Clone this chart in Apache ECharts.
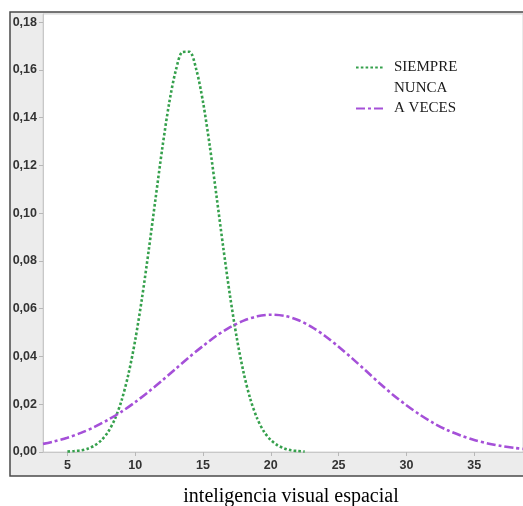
<!DOCTYPE html>
<html>
<head>
<meta charset="utf-8">
<script src="https://cdn.jsdelivr.net/npm/echarts@6/dist/echarts.min.js"></script>
<style>
html,body{margin:0;padding:0;background:#fff;}
#c{width:523px;height:506px;}
</style>
</head>
<body>
<div id="c"></div>
<script>
const xTicks = [5, 10, 15, 20, 25, 30, 35];
const yTicks = [0, 0.02, 0.04, 0.06, 0.08, 0.10, 0.12, 0.14, 0.16, 0.18];

const siempreX = [5, 5.5, 6, 6.5, 7, 7.5, 8, 8.5, 9, 9.5, 10, 10.5, 11, 11.5, 12, 12.5, 13, 13.5, 14, 14.5, 15, 15.5, 16, 16.5, 17, 17.5, 18, 18.5, 19, 19.5, 20, 20.5, 21, 21.5, 22, 22.5];
const siempreY = [0.0002, 0.0004, 0.0007, 0.0014, 0.0027, 0.0049, 0.0084, 0.0138, 0.0217, 0.0326, 0.0468, 0.0644, 0.0846, 0.1061, 0.1273, 0.1459, 0.1599, 0.1675, 0.1676, 0.1603, 0.1466, 0.1281, 0.1070, 0.0854, 0.0651, 0.0475, 0.0331, 0.0220, 0.0140, 0.0085, 0.0050, 0.0028, 0.0015, 0.0007, 0.0004, 0.0002];

const avecesX = [3.2, 4, 5, 6, 7, 8, 9, 10, 11, 12, 13, 14, 15, 16, 17, 18, 19, 20, 21, 22, 23, 24, 25, 26, 27, 28, 29, 30, 31, 32, 33, 34, 35, 36, 37, 38, 38.6];
const avecesY = [0.0034, 0.0044, 0.0060, 0.0080, 0.0105, 0.0135, 0.0169, 0.0209, 0.0253, 0.0300, 0.0349, 0.0398, 0.0444, 0.0487, 0.0523, 0.0550, 0.0568, 0.0575, 0.0570, 0.0553, 0.0524, 0.0486, 0.0441, 0.0392, 0.0341, 0.0289, 0.0240, 0.0196, 0.0156, 0.0121, 0.0092, 0.0069, 0.0050, 0.0036, 0.0025, 0.0017, 0.0013];

const pairs = (xs, ys) => xs.map((x, i) => [x, ys[i]]);

const chart = echarts.init(document.getElementById('c'), null, {renderer: 'canvas'});
chart.setOption({
  animation: false,
  backgroundColor: '#fff',
  graphic: [{
    type: 'rect', z: -100,
    shape: {x: 10, y: 12, width: 530, height: 464},
    style: {fill: '#ececec', stroke: '#4a4a4a', lineWidth: 1.5}
  }],
  grid: {
    left: 43, top: 14, right: 0, bottom: 54,
    outerBoundsMode: 'none', containLabel: false,
    show: true, backgroundColor: '#fff', borderColor: '#d4d4d4', borderWidth: 1
  },
  legend: {
    orient: 'vertical', left: 350, top: 55,
    itemWidth: 27, itemHeight: 14, itemGap: 5.5,
    itemStyle: {opacity: 0},
    textStyle: {fontFamily: 'Liberation Serif', fontSize: 15, color: '#1a1a1a', padding: [0, 0, 0, 6]},
    data: ['SIEMPRE', 'NUNCA', 'A VECES']
  },
  xAxis: {
    type: 'value', min: 3.2, max: 38.6,
    name: 'inteligencia visual espacial', nameLocation: 'middle', nameGap: 35,
    nameTextStyle: {fontFamily: 'Liberation Serif', fontSize: 20, color: '#000', padding: [0, 0, 0, 16]},
    axisLine: {show: true, lineStyle: {color: '#c8c8c8', width: 1}},
    axisTick: {show: true, length: 4, lineStyle: {color: '#b8b8b8'}, customValues: xTicks},
    axisLabel: {customValues: xTicks, margin: 7, fontFamily: 'Liberation Sans', fontWeight: 'bold', fontSize: 12.5, color: '#333'},
    splitLine: {show: false}
  },
  yAxis: {
    type: 'value', min: 0, max: 0.1834,
    axisLine: {show: true, lineStyle: {color: '#c8c8c8', width: 1}},
    axisTick: {show: true, length: 4, lineStyle: {color: '#b8b8b8'}, customValues: yTicks},
    axisLabel: {customValues: yTicks, margin: 6, fontFamily: 'Liberation Sans', fontWeight: 'bold', fontSize: 12.5, color: '#333',
      formatter: v => v.toFixed(2).replace('.', ',')},
    splitLine: {show: false}
  },
  series: [
    {name: 'SIEMPRE', type: 'line', smooth: 0.3, symbol: 'none',
     data: pairs(siempreX, siempreY),
     itemStyle: {color: '#35a04c'},
     lineStyle: {color: '#35a04c', width: 2.6, type: [2.6, 2.2]}},
    {name: 'NUNCA', type: 'line', symbol: 'none', data: [],
     itemStyle: {color: 'rgba(0,0,0,0)'},
     lineStyle: {color: 'rgba(0,0,0,0)', width: 0}},
    {name: 'A VECES', type: 'line', smooth: 0.3, symbol: 'none',
     data: pairs(avecesX, avecesY),
     itemStyle: {color: '#a550d8'},
     lineStyle: {color: '#a550d8', width: 2.6, type: [9, 3, 3, 3]}}
  ]
});
</script>
</body>
</html>
